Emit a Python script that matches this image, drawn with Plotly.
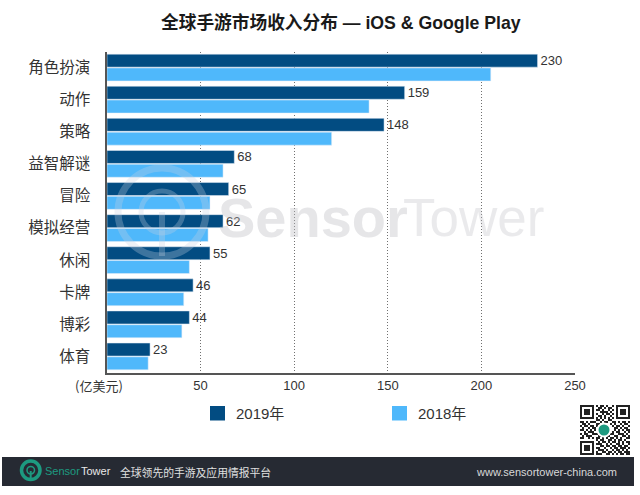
import plotly.graph_objects as go

CJK = "Noto Sans CJK SC, Liberation Sans, sans-serif"
LAT = "Liberation Sans, Noto Sans CJK SC, sans-serif"

categories = ["角色扮演", "动作", "策略", "益智解谜", "冒险", "模拟经营", "休闲", "卡牌", "博彩", "体育"]
rev_2019 = [230, 159, 148, 68, 65, 62, 55, 46, 44, 23]
rev_2018 = [205, 140, 120, 62, 55, 54, 44, 41, 40, 22]
x_ticks = [50, 100, 150, 200, 250]
qr_rows = [
    "1111111010110100101111111",
    "1000001001101011001000001",
    "1011101011010010101011101",
    "1011101000111101001011101",
    "1011101010010110101011101",
    "1000001001101001001000001",
    "1111111010101010101111111",
    "0000000011010011000000000",
    "1101011100101100110101101",
    "0110100011000001010010110",
    "1011011010000000101101001",
    "0100101100000000011010110",
    "1101010100000000010101011",
    "0010111000000000101100101",
    "1011001110000001100111010",
    "0101110001100110011001101",
    "1100101011010101101010011",
    "0000000010110011010110100",
    "1111111001011010110101011",
    "1000001011100101001101001",
    "1011101000110110110110110",
    "1011101011001001011011101",
    "1011101001110100101101010",
    "1000001010011011010110111",
    "1111111011100110101011011",
]

W, H = 640, 495
def px(x): return x / W
def py(y): return 1 - y / H

WM = "rgba(200,208,225,0.30)"
TEAL = "#1D9A80"
C19, C18 = "#024C82", "#4FB8FB"

fig = go.Figure()
fig.add_bar(y=categories, x=rev_2019, name="2019年", orientation="h", marker_color=C19,
            text=rev_2019, textposition="outside", cliponaxis=False, constraintext="none",
            textfont=dict(family=LAT, size=13, color="#333333"))
fig.add_bar(y=categories, x=rev_2018, name="2018年", orientation="h", marker_color=C18)

# QR code, drawn as a heatmap on its own small axes
fig.add_heatmap(z=[[int(c) for c in r] for r in qr_rows], xaxis="x2", yaxis="y2", showscale=False,
                colorscale=[[0, "#FFFFFF"], [1, "#222222"]], hoverinfo="skip", xgap=0, ygap=0)

def shape(kind, x0, x1, y0, y1, **kw):
    return dict(type=kind, xref="paper", yref="paper", x0=px(x0), x1=px(x1), y0=py(y1), y1=py(y0), **kw)

shapes = [
    # footer band
    shape("rect", 2, 634, 457, 486, fillcolor="#262A33", line_width=0, layer="below"),
    # footer logo
    shape("circle", 21.5, 40, 461, 479.5, fillcolor="rgba(0,0,0,0)", line=dict(color=TEAL, width=3.5)),
    shape("circle", 27, 34.5, 466.5, 474, fillcolor="rgba(0,0,0,0)", line=dict(color=TEAL, width=1.5)),
    shape("line", 30.7, 30.7, 471, 480, line=dict(color=TEAL, width=2)),
    # watermark logo
    shape("circle", 118, 206, 168, 256, fillcolor="rgba(0,0,0,0)", line=dict(color=WM, width=7), layer="above"),
    shape("circle", 141, 183, 191, 233, fillcolor="rgba(0,0,0,0)", line=dict(color=WM, width=5), layer="above"),
    shape("line", 162, 162, 212, 256, line=dict(color=WM, width=6), layer="above"),
    # QR centre dot
    shape("circle", 597.5, 610.5, 423.5, 436.5, fillcolor=TEAL, line=dict(color="#FFFFFF", width=2), layer="above"),
    # legend swatches
    shape("rect", 210, 225, 406, 420.5, fillcolor=C19, line_width=0),
    shape("rect", 392, 407, 406, 420.5, fillcolor=C18, line_width=0),
]

annotations = [
    dict(text="<b>全球手游市场收入分布 — iOS & Google Play</b>", x=px(341), y=py(23), xanchor="center",
         font=dict(family=LAT, size=17.7, color="#1A1A1A")),
    dict(text="(亿美元)", x=px(99), y=py(385), xanchor="center",
         font=dict(family=CJK, size=13, color="#333333")),
    dict(text="2019年", x=px(234), y=py(413), xanchor="left",
         font=dict(family=LAT, size=15, color="#333333")),
    dict(text="2018年", x=px(416), y=py(413), xanchor="left",
         font=dict(family=LAT, size=15, color="#333333")),
    dict(text="<b>Sensor</b>", x=px(216), y=py(218), xanchor="left",
         font=dict(family=LAT, size=56, color="rgba(190,190,195,0.38)")),
    dict(text="Tower", x=px(401), y=py(218), xanchor="left",
         font=dict(family=LAT, size=53, color="rgba(190,190,195,0.32)")),
    dict(text="Sensor", x=px(43), y=py(471), xanchor="left",
         font=dict(family=LAT, size=11, color=TEAL)),
    dict(text="Tower", x=px(79), y=py(471), xanchor="left",
         font=dict(family=LAT, size=11, color="#E8E8E8")),
    dict(text="全球领先的手游及应用情报平台", x=px(118), y=py(472), xanchor="left",
         font=dict(family=CJK, size=10.8, color="#E0E0E0")),
    dict(text="www.sensortower-china.com", x=px(619), y=py(472), xanchor="right",
         font=dict(family=LAT, size=11, color="#D8D8D8")),
]
for a in annotations:
    a.update(xref="paper", yref="paper", showarrow=False, yanchor="middle")

fig.update_layout(
    width=W, height=H, margin=dict(l=0, r=0, t=0, b=0), autosize=False, showlegend=False,
    paper_bgcolor="#FFFFFF", plot_bgcolor="#FFFFFF", barmode="group",
    bargap=0.14, bargroupgap=0.06, shapes=shapes, annotations=annotations,
    xaxis=dict(domain=[px(107), px(575)], range=[0, 250], tickvals=x_ticks, ticks="", automargin=False,
               showgrid=True, gridcolor="#707070", griddash="1px,2px", gridwidth=1, zeroline=False,
               showline=True, linecolor="#555555", linewidth=1.5,
               tickfont=dict(family=LAT, size=13, color="#333333")),
    yaxis=dict(domain=[py(372.5), py(51.5)], autorange="reversed", showline=True, linecolor="#555555",
               linewidth=1.5, ticks="", ticklabelstandoff=12, showgrid=False, automargin=False,
               tickfont=dict(family=CJK, size=15.5, color="#333333")),
    xaxis2=dict(domain=[px(580), px(630)], visible=False, anchor="y2", fixedrange=True, automargin=False),
    yaxis2=dict(domain=[py(455), py(405)], visible=False, anchor="x2", autorange="reversed", fixedrange=True,
                automargin=False),
)

fig.write_html("out.html", config=dict(displayModeBar=False, responsive=False),
               post_script="document.body.style.margin='0';document.body.style.overflow='hidden';")
